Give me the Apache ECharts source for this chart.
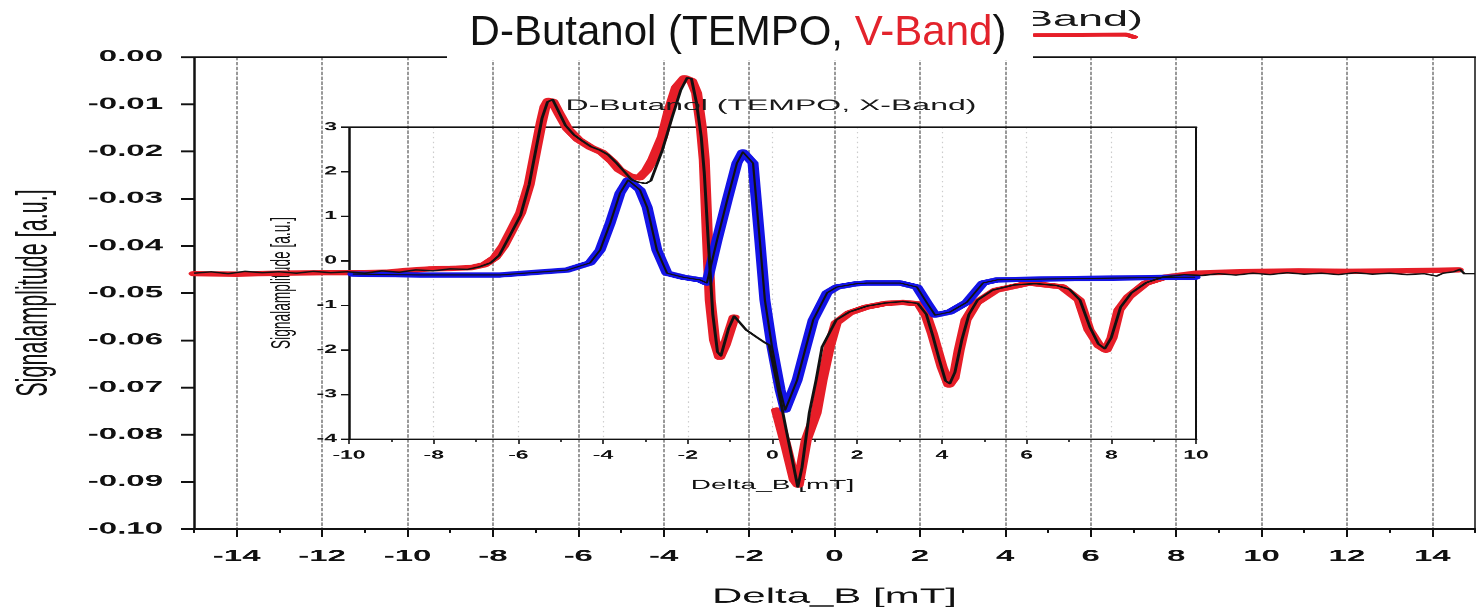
<!DOCTYPE html>
<html>
<head>
<meta charset="utf-8">
<title>D-Butanol (TEMPO, V-Band)</title>
<script src="https://cdn.jsdelivr.net/npm/echarts@6/dist/echarts.min.js"></script>
<style>
  html, body { margin: 0; padding: 0; background: #ffffff; overflow: hidden; }
  #wrap { position: relative; width: 1476px; height: 610px; overflow: hidden; }
  #main { position: absolute; left: 0; top: 0; width: 1476px; transform-origin: 0 0; }
  #head { position: absolute; left: 0; top: 0; width: 1476px; height: 70px; }
</style>
</head>
<body>
<div id="wrap">
  <div id="main"></div>
  <div id="head"></div>
</div>
<script>
// V-band spectrum: marker trace (red) and recorded trace (black), outer axes
const vBandRed = [
  [-15.0,-0.0459],[-14.0,-0.0460],[-13.0,-0.0458],[-12.0,-0.0457],[-11.0,-0.0457],[-10.5,-0.0456],
  [-10.0,-0.0452],[-9.5,-0.0449],[-9.0,-0.0448],[-8.5,-0.0446],[-8.2,-0.0440],[-7.95,-0.0425],
  [-7.75,-0.0400],[-7.56,-0.0367],[-7.35,-0.0330],[-7.15,-0.0270],[-7.0,-0.0200],[-6.87,-0.0140],
  [-6.78,-0.0105],[-6.7,-0.0092],[-6.6,-0.0094],[-6.45,-0.0120],[-6.25,-0.0152],[-6.0,-0.0175],
  [-5.7,-0.0192],[-5.45,-0.0202],[-5.2,-0.0222],[-5.04,-0.0239],[-4.8,-0.0252],[-4.57,-0.0256],
  [-4.4,-0.0240],[-4.26,-0.0218],[-4.03,-0.0169],[-3.87,-0.0112],[-3.70,-0.0064],[-3.51,-0.0044],
  [-3.35,-0.0050],[-3.23,-0.0076],[-3.12,-0.0148],[-3.05,-0.0218],[-2.98,-0.0373],[-2.91,-0.0515],
  [-2.81,-0.0600],[-2.69,-0.0636],[-2.56,-0.0610],[-2.35,-0.0551],[-1.9,null],
  [-1.36,-0.0748],[-1.13,-0.0826],[-0.94,-0.0896],[-0.85,-0.0907],[-0.66,-0.0811],[-0.43,-0.0754],
  [-0.29,-0.0684],[-0.12,-0.0614],[0.04,-0.0563],[0.35,-0.0542],[0.74,-0.0530],[1.2,-0.0522],
  [1.6,-0.0520],[1.98,-0.0523],[2.15,-0.0548],[2.29,-0.0585],[2.52,-0.0657],[2.68,-0.0695],
  [2.8,-0.0680],[2.92,-0.0621],[3.08,-0.0557],[3.32,-0.0521],[3.78,-0.0494],[4.56,-0.0479],
  [5.33,-0.0487],[5.73,-0.0515],[5.96,-0.0578],[6.2,-0.0612],[6.36,-0.0621],[6.5,-0.0595],
  [6.66,-0.0536],[6.89,-0.0508],[7.29,-0.0479],[7.76,-0.0466],[8.46,-0.0458],[9.5,-0.0455],
  [10.87,-0.0453],[12.0,-0.0454],[13.21,-0.0453],[14.0,-0.0452],[14.61,-0.0451]
];

const vBandBlack = [
  [-15.0,-0.0458],[-14.6,-0.0455],[-14.2,-0.0459],[-13.8,-0.0454],[-13.4,-0.0457],[-13.0,-0.0455],
  [-12.6,-0.0458],[-12.2,-0.0454],[-11.8,-0.0457],[-11.4,-0.0455],[-11.0,-0.0458],[-10.6,-0.0453],
  [-10.2,-0.0456],[-9.8,-0.0451],[-9.4,-0.0453],[-9.0,-0.0449],[-8.6,-0.0450],[-8.3,-0.0444],
  [-8.05,-0.0436],[-7.85,-0.0420],[-7.6,-0.0378],[-7.35,-0.0335],[-7.15,-0.0270],[-6.98,-0.0190],
  [-6.85,-0.0130],[-6.72,-0.0095],[-6.6,-0.0090],[-6.48,-0.0112],[-6.3,-0.0145],[-6.1,-0.0165],
  [-5.9,-0.0178],[-5.7,-0.0190],[-5.5,-0.0197],[-5.3,-0.0207],[-5.1,-0.0225],[-4.9,-0.0245],
  [-4.75,-0.0260],[-4.6,-0.0265],[-4.42,-0.0268],[-4.3,-0.0262],[-4.03,-0.0197],[-3.8,-0.0127],
  [-3.6,-0.0070],[-3.45,-0.0044],[-3.35,-0.0046],[-3.23,-0.0098],[-3.12,-0.0170],[-3.05,-0.0245],
  [-2.95,-0.0400],[-2.85,-0.0545],[-2.74,-0.0625],[-2.66,-0.0633],[-2.48,-0.0575],[-2.35,-0.0549],
  [-2.07,-0.0578],[-1.83,-0.0593],[-1.65,-0.0604],[-1.53,-0.0610],[-1.36,-0.0684],[-1.13,-0.0790],
  [-0.94,-0.0875],[-0.86,-0.0911],[-0.76,-0.0869],[-0.59,-0.0754],[-0.43,-0.0684],[-0.29,-0.0614],
  [0.04,-0.0557],[0.35,-0.0540],[0.75,-0.0528],[1.2,-0.0521],[1.6,-0.0518],[1.95,-0.0522],
  [2.15,-0.0545],[2.3,-0.0590],[2.45,-0.0640],[2.6,-0.0686],[2.7,-0.0692],[2.82,-0.0668],
  [2.98,-0.0600],[3.15,-0.0545],[3.35,-0.0515],[3.7,-0.0494],[4.2,-0.0483],[4.7,-0.0480],
  [5.2,-0.0484],[5.5,-0.0492],[5.75,-0.0515],[5.98,-0.0572],[6.18,-0.0608],[6.33,-0.0618],
  [6.48,-0.0595],[6.7,-0.0530],[6.95,-0.0500],[7.3,-0.0478],[7.7,-0.0466],[8.2,-0.0461],
  [8.6,-0.0463],[9.0,-0.0459],[9.4,-0.0462],[9.8,-0.0458],[10.2,-0.0461],[10.6,-0.0457],
  [11.0,-0.0460],[11.4,-0.0458],[11.8,-0.0461],[12.2,-0.0457],[12.6,-0.0460],[13.0,-0.0458],
  [13.4,-0.0461],[13.8,-0.0459],[14.1,-0.0464],[14.25,-0.0458],[14.5,-0.0455],[14.65,-0.0450],
  [14.75,-0.0459],[15.0,-0.0459]
];

// X-band spectrum, inset axes
const xBand = [
  [-9.91,-0.30],[-8.32,-0.32],[-6.43,-0.32],[-4.85,-0.21],[-4.31,-0.05],[-4.07,0.24],
  [-3.83,0.85],[-3.60,1.52],[-3.41,1.81],[-3.13,1.59],[-2.96,1.20],[-2.73,0.24],
  [-2.49,-0.28],[-2.11,-0.37],[-1.71,-0.43],[-1.55,-0.50],[-1.31,0.46],[-1.07,1.36],
  [-0.84,2.19],[-0.70,2.44],[-0.46,2.19],[-0.30,0.46],[-0.18,-0.88],[-0.01,-1.94],
  [0.18,-2.90],[0.30,-3.35],[0.58,-2.68],[0.77,-2.00],[0.96,-1.33],[1.29,-0.72],
  [1.52,-0.59],[1.95,-0.52],[2.23,-0.50],[3.01,-0.50],[3.41,-0.59],[3.65,-0.95],
  [3.84,-1.22],[4.19,-1.15],[4.59,-0.93],[4.97,-0.50],[5.30,-0.43],[6.48,-0.41],
  [8.04,-0.39],[9.62,-0.37],[9.98,-0.37]
];

const outerXTicks = [-14,-12,-10,-8,-6,-4,-2,0,2,4,6,8,10,12,14];
const mainTitle = ['D-Butanol (TEMPO, ', 'V-Band', ')'];
const insetTitle = 'D-Butanol (TEMPO, X-Band)';
const yName = 'Signalamplitude [a.u.]';
const xName = 'Delta_B [mT]';

// The printed plot is vertically compressed; draw it tall and squeeze it.
const SQ = 0.49;
const H = Math.round(610 / SQ);
const vy = p => p / SQ;
const FONT = "'Liberation Sans', Arial, sans-serif";
const INK = '#111';
const RED = '#e61e28';
const BLUE = '#1414e6';

const mainEl = document.getElementById('main');
mainEl.style.height = H + 'px';
mainEl.style.transform = 'scaleY(' + SQ + ')';

const chart = echarts.init(mainEl, null, { renderer: 'canvas' });

const noAxisParts = {
  axisTick: { show: false }, axisLabel: { show: false }, splitLine: { show: false }
};
const line = (width, show) => ({ show: show !== false, onZero: false, lineStyle: { color: INK, width } });

chart.setOption({
  animation: false,
  grid: [
    { left: 194, top: vy(57), width: 1281, height: vy(472) },
    { left: 349, top: vy(127), width: 847, height: vy(312) }
  ],
  xAxis: [
    { // outer bottom
      type: 'value', gridIndex: 0, position: 'bottom', min: -15, max: 15,
      axisLine: line(4),
      axisTick: { customValues: outerXTicks, length: vy(8), lineStyle: { color: INK, width: 2 } },
      axisLabel: { customValues: outerXTicks, margin: 40, fontSize: 33, fontWeight: 'bold',
                   fontFamily: FONT, color: INK },
      splitLine: { show: true, lineStyle: { color: '#999999', width: 2, type: [7, 3] } },
      name: xName, nameLocation: 'middle', nameGap: 118,
      nameTextStyle: { fontSize: 42, fontFamily: FONT, color: INK }
    },
    { // outer minor ticks
      type: 'value', gridIndex: 0, position: 'bottom', min: -15, max: 15, interval: 1,
      axisLine: line(1, false),
      axisTick: { length: vy(4), lineStyle: { color: INK, width: 2 } },
      axisLabel: { show: false }, splitLine: { show: false }
    },
    { // outer top frame
      type: 'value', gridIndex: 0, position: 'top', min: -15, max: 15,
      axisLine: line(3), ...noAxisParts
    },
    { // inset bottom
      type: 'value', gridIndex: 1, position: 'bottom', min: -10, max: 10, interval: 2,
      axisLine: line(3),
      axisTick: { length: vy(5), lineStyle: { color: INK, width: 1.6 } },
      minorTick: { show: true, splitNumber: 2, length: vy(3), lineStyle: { color: INK, width: 1.6 } },
      axisLabel: { margin: 22, fontSize: 23, fontWeight: 'bold', fontFamily: FONT, color: INK },
      splitLine: { show: true, lineStyle: { color: '#cccccc', width: 1.2, type: [3, 7] } },
      name: xName, nameLocation: 'middle', nameGap: 80,
      nameTextStyle: { fontSize: 28, fontFamily: FONT, color: INK }
    },
    { // inset top frame
      type: 'value', gridIndex: 1, position: 'top', min: -10, max: 10,
      axisLine: line(3), ...noAxisParts
    }
  ],
  yAxis: [
    { // outer left
      type: 'value', gridIndex: 0, position: 'left', min: -0.1, max: 0, interval: 0.01,
      axisLine: line(2.5),
      axisTick: { length: 13, lineStyle: { color: INK, width: 4 } },
      axisLabel: { margin: 31, fontSize: 33, fontWeight: 'bold', fontFamily: FONT, color: INK,
                   formatter: v => v.toFixed(2) },
      splitLine: { show: false },
      name: yName, nameLocation: 'middle', nameRotate: 90, nameGap: 137,
      nameTextStyle: { fontSize: 44, fontFamily: FONT, color: INK }
    },
    { // outer right frame
      type: 'value', gridIndex: 0, position: 'right', min: -0.1, max: 0,
      axisLine: line(1.5), ...noAxisParts
    },
    { // inset left
      type: 'value', gridIndex: 1, position: 'left', min: -4, max: 3, interval: 1,
      axisLine: line(2.5),
      axisTick: { length: 8, lineStyle: { color: INK, width: 3 } },
      axisLabel: { margin: 12, fontSize: 23, fontWeight: 'bold', fontFamily: FONT, color: INK },
      splitLine: { show: false },
      name: yName, nameLocation: 'middle', nameRotate: 90, nameGap: 53,
      nameTextStyle: { fontSize: 28, fontFamily: FONT, color: INK }
    },
    { // inset right frame
      type: 'value', gridIndex: 1, position: 'right', min: -4, max: 3,
      axisLine: line(2), ...noAxisParts
    }
  ],
  graphic: [
    { type: 'text', x: 771, y: vy(106), z: 10,
      style: { text: insetTitle, fontSize: 32, fontFamily: FONT, fill: '#1a1a1a',
               align: 'center', verticalAlign: 'middle', textAlign: 'center', textVerticalAlign: 'middle' } },
    { type: 'text', x: 1023, y: vy(20), z: 10,
      style: { text: 'Band)', fontSize: 45, fontFamily: FONT, fill: '#1a1a1a',
               align: 'left', verticalAlign: 'middle', textAlign: 'left', textVerticalAlign: 'middle' } },
    { type: 'polyline', z: 9,
      shape: { points: [[1036, vy(35)], [1126, vy(34.5)], [1134, vy(37)]] },
      style: { stroke: RED, lineWidth: 8, fill: null, lineCap: 'round', lineJoin: 'round' } }
  ],
  series: [
    { name: 'V-Band', type: 'line', xAxisIndex: 0, yAxisIndex: 0, data: vBandRed,
      showSymbol: false, symbol: 'none', connectNulls: false, z: 2,
      lineStyle: { color: RED, width: 11, cap: 'round', join: 'round' } },
    { name: 'X-Band', type: 'line', xAxisIndex: 3, yAxisIndex: 2, data: xBand,
      showSymbol: false, symbol: 'none', z: 3,
      lineStyle: { color: BLUE, width: 11, cap: 'round', join: 'round' } },
    { name: 'V-Band trace', type: 'line', xAxisIndex: 0, yAxisIndex: 0, data: vBandBlack,
      showSymbol: false, symbol: 'none', z: 4,
      lineStyle: { color: INK, width: 3, join: 'round' } },
    { name: 'X-Band trace', type: 'line', xAxisIndex: 3, yAxisIndex: 2, data: xBand,
      showSymbol: false, symbol: 'none', z: 5,
      lineStyle: { color: INK, width: 2.2, join: 'round' } }
  ]
});

// Title strip on top of the plot
const head = echarts.init(document.getElementById('head'), null, { renderer: 'canvas' });
head.setOption({
  animation: false,
  graphic: [
    { type: 'rect', z: 0, shape: { x: 447, y: 0, width: 586, height: 60 }, style: { fill: '#ffffff' } }
  ],
  title: {
    left: 'center', top: 12, padding: 0,
    text: '{k|' + mainTitle[0] + '}{r|' + mainTitle[1] + '}{k|' + mainTitle[2] + '}',
    textStyle: {
      fontWeight: 'normal',
      rich: {
        k: { fontSize: 42, lineHeight: 42, fontFamily: FONT, fontWeight: 'normal', color: '#111' },
        r: { fontSize: 42, lineHeight: 42, fontFamily: FONT, fontWeight: 'normal', color: '#e3232c' }
      }
    }
  }
});
</script>
</body>
</html>
